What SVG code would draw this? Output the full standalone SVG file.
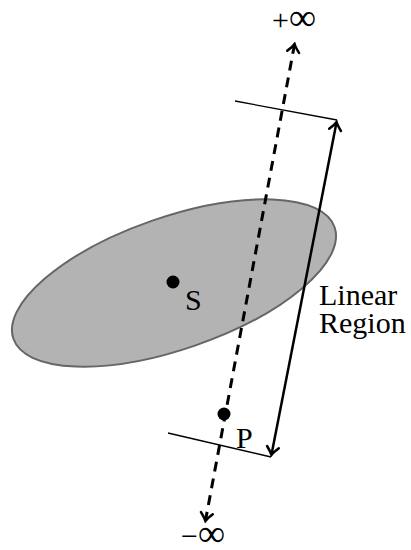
<svg xmlns="http://www.w3.org/2000/svg" width="411" height="550" viewBox="0 0 411 550">
<style>
.lbl{font-family:"Liberation Serif","Times New Roman",serif;font-size:30px;fill:#000}
.inf{font-size:38px}
.thin{stroke:#000;stroke-width:1.3;fill:none}
.dot{fill:#000}
</style>
<defs>
<marker id="ah" viewBox="-12 -8 14 16" markerWidth="14" markerHeight="16" refX="0" refY="0" orient="auto-start-reverse" markerUnits="userSpaceOnUse">
<path d="M -8 -6 Q -3 -1.5 0 0 Q -3 1.5 -8 6" fill="none" stroke="#000" stroke-width="2.5" stroke-linecap="round"/>
</marker>
</defs>
<g id="region">
<ellipse cx="174" cy="283" rx="170" ry="66" transform="rotate(-19.15 174 283)" fill="#b3b3b3" stroke="#666" stroke-width="2"/>
</g>
<g id="connectors">
<line x1="235" y1="101" x2="337" y2="120" class="thin"/>
<line x1="168" y1="433" x2="271" y2="457" class="thin"/>
<line x1="294.6" y1="44" x2="205.4" y2="521" stroke="#000" stroke-width="3" stroke-dasharray="10 7" marker-start="url(#ah)" marker-end="url(#ah)"/>
<line x1="336.6" y1="122" x2="271.4" y2="455" stroke="#000" stroke-width="2.5" marker-start="url(#ah)" marker-end="url(#ah)"/>
</g>
<g id="S">
<circle cx="173" cy="282" r="6.5" class="dot"/>
<text x="185" y="310" class="lbl">S</text>
</g>
<g id="P">
<circle cx="224" cy="414" r="6.5" class="dot"/>
<text x="236" y="448" class="lbl">P</text>
</g>
<g id="plusinf"><text x="272" y="30" class="lbl">+<tspan class="inf">∞</tspan></text></g>
<g id="minusinf"><text x="181" y="546" class="lbl">−<tspan class="inf">∞</tspan></text></g>
<g id="linear-region">
<text x="319" y="305" class="lbl">Linear</text>
<text x="319" y="333" class="lbl">Region</text>
</g>
</svg>
